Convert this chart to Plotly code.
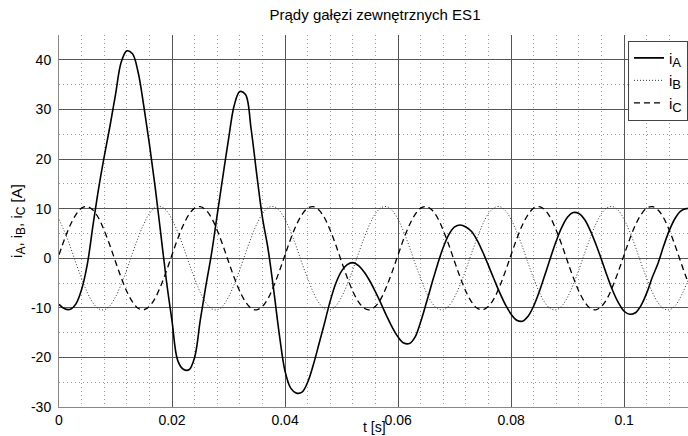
import plotly.graph_objects as go

# time axis [s], 1 ms steps
t = [round(k * 0.001, 3) for k in range(113)]

i_A = [-9.3, -10.2, -10.3, -9.2, -6.3, -1.3, 6.5, 14.0, 20.5, 26.5,
       33.0, 39.5, 41.8, 41.2, 37.5, 30.7, 23.0, 14.5, 5.0, -4.5,
       -12.7, -20.6, -22.4, -22.5, -20.0, -12.5, -5.5, 1.0, 8.8, 16.5,
       24.0, 30.8, 33.6, 33.0, 26.0, 16.8, 8.2, 1.8, -6.5, -15.5,
       -22.8, -26.2, -27.2, -27.0, -25.0, -21.5, -17.3, -13.0, -8.6, -5.0,
       -2.6, -1.3, -0.9, -1.5, -2.8, -4.6, -6.8, -9.2, -11.7, -14.0,
       -15.9, -17.1, -17.2, -15.9, -12.8, -9.0, -5.0, -1.2, 2.2, 4.8,
       6.3, 6.7, 6.3, 5.4, 3.6, 1.2, -1.5, -4.3, -7.0, -9.4,
       -11.3, -12.5, -12.7, -11.7, -9.6, -6.7, -3.3, 0.2, 3.5, 6.3,
       8.3, 9.2, 9.0, 7.8, 5.6, 2.8, -0.3, -3.6, -6.6, -9.0,
       -10.7, -11.3, -11.0, -9.5, -7.0, -3.8, -1.0, 2.5, 5.6, 8.0,
       9.5, 10.0, 9.9]

i_B = [7.8, 5.3, 2.3, -1.0, -4.1, -6.9, -9.0, -10.2, -10.4, -9.6,
       -7.8, -5.3, -2.3, 1.0, 4.1, 6.9, 9.0, 10.2, 10.4, 9.6,
       7.8, 5.3, 2.3, -1.0, -4.1, -6.9, -9.0, -10.2, -10.4, -9.6,
       -7.8, -5.3, -2.3, 1.0, 4.1, 6.9, 9.0, 10.2, 10.4, 9.6,
       7.8, 5.3, 2.3, -1.0, -4.1, -6.9, -9.0, -10.2, -10.4, -9.6,
       -7.8, -5.3, -2.3, 1.0, 4.1, 6.9, 9.0, 10.2, 10.4, 9.6,
       7.8, 5.3, 2.3, -1.0, -4.1, -6.9, -9.0, -10.2, -10.4, -9.6,
       -7.8, -5.3, -2.3, 1.0, 4.1, 6.9, 9.0, 10.2, 10.4, 9.6,
       7.8, 5.3, 2.3, -1.0, -4.1, -6.9, -9.0, -10.2, -10.4, -9.6,
       -7.8, -5.3, -2.3, 1.0, 4.1, 6.9, 9.0, 10.2, 10.4, 9.6,
       7.8, 5.3, 2.3, -1.0, -4.1, -6.9, -9.0, -10.2, -10.4, -9.6,
       -7.8, -5.3, -2.3]

i_C = [0.7, 3.9, 6.7, 8.8, 10.1, 10.4, 9.7, 8.1, 5.6, 2.6,
       -0.7, -3.9, -6.7, -8.8, -10.1, -10.4, -9.7, -8.1, -5.6, -2.6,
       0.7, 3.9, 6.7, 8.8, 10.1, 10.4, 9.7, 8.1, 5.6, 2.6,
       -0.7, -3.9, -6.7, -8.8, -10.1, -10.4, -9.7, -8.1, -5.6, -2.6,
       0.7, 3.9, 6.7, 8.8, 10.1, 10.4, 9.7, 8.1, 5.6, 2.6,
       -0.7, -3.9, -6.7, -8.8, -10.1, -10.4, -9.7, -8.1, -5.6, -2.6,
       0.7, 3.9, 6.7, 8.8, 10.1, 10.4, 9.7, 8.1, 5.6, 2.6,
       -0.7, -3.9, -6.7, -8.8, -10.1, -10.4, -9.7, -8.1, -5.6, -2.6,
       0.7, 3.9, 6.7, 8.8, 10.1, 10.4, 9.7, 8.1, 5.6, 2.6,
       -0.7, -3.9, -6.7, -8.8, -10.1, -10.4, -9.7, -8.1, -5.6, -2.6,
       0.7, 3.9, 6.7, 8.8, 10.1, 10.4, 9.7, 8.1, 5.6, 2.6,
       -0.7, -3.9, -6.7]

x_ticks = [0, 0.02, 0.04, 0.06, 0.08, 0.1]
x_tick_labels = ["0", "0.02", "0.04", "0.06", "0.08", "0.1"]
y_ticks = [-30, -20, -10, 0, 10, 20, 30, 40]
y_tick_labels = ["-30", "-20", "-10", "0", "10", "20", "30", "40"]

FONT = "Liberation Sans, Arial, sans-serif"
W, H = 688, 436
L, R, T, B = 59, 0, 35, 29


def sub(s, size):
    return "<sub><span style='font-size:%dpx'>%s</span></sub>" % (size, s)


fig = go.Figure()
fig.add_trace(go.Scatter(x=t, y=i_A, mode="lines", name="i" + sub("A", 13),
                         line=dict(color="black", width=1.6, shape="spline")))
fig.add_trace(go.Scatter(x=t, y=i_B, mode="lines", name="i" + sub("B", 13),
                         line=dict(color="#333333", width=1, dash="1px,2px", shape="spline")))
fig.add_trace(go.Scatter(x=t, y=i_C, mode="lines", name="i" + sub("C", 13),
                         line=dict(color="black", width=1.3, dash="6px,4px", shape="spline")))

fig.update_layout(
    width=W, height=H,
    margin=dict(l=L, r=R, t=T, b=B, autoexpand=False),
    paper_bgcolor="white", plot_bgcolor="white",
    font=dict(family=FONT, size=14, color="black"),
    title=dict(text="Prądy gałęzi zewnętrznych ES1", x=375/W, xanchor="center",
               y=1 - 15/H, yanchor="middle", font=dict(size=15, family=FONT)),
    showlegend=True,
    legend=dict(x=1.0, xanchor="right", y=0.985, yanchor="top",
                bgcolor="white", bordercolor="#444444", borderwidth=1,
                font=dict(size=15, family=FONT), itemwidth=30,
                tracegroupgap=0),
    annotations=[dict(text="t [s]", xref="paper", yref="paper",
                      x=(375 - L) / (W - L - R), y=-(426.5 - (H - B)) / (H - T - B),
                      xanchor="center", yanchor="middle", showarrow=False,
                      font=dict(size=14, family=FONT))],
)

fig.update_xaxes(
    range=[0, 0.1113], tickmode="array", tickvals=x_ticks, ticktext=x_tick_labels,
    showgrid=True, gridcolor="#555555", gridwidth=1,
    minor=dict(dtick=0.004, showgrid=True, gridcolor="#9a9a9a", griddash="1px,3px", gridwidth=1),
    showline=True, linecolor="#888888", linewidth=1, mirror=False,
    zeroline=False, ticks="", ticklabelstandoff=0, automargin=False,
    tickfont=dict(size=14, family=FONT),
)
fig.update_yaxes(
    range=[-30, 45], tickmode="array", tickvals=y_ticks, ticktext=y_tick_labels,
    showgrid=True, gridcolor="#555555", gridwidth=1,
    minor=dict(dtick=5, showgrid=True, gridcolor="#9a9a9a", griddash="1px,3px", gridwidth=1),
    showline=True, linecolor="#888888", linewidth=1, mirror=False,
    zeroline=False, ticks="", ticklabelstandoff=4, automargin=False,
    tickfont=dict(size=14, family=FONT),
    title=dict(text="i" + sub("A", 12) + ", i" + sub("B", 12) + ", i" + sub("C", 12) + " [A]",
               standoff=4, font=dict(size=15, family=FONT)),
)

fig.write_html("out.html", config={"displayModeBar": False},
               post_script="document.body.style.margin='0';document.body.style.overflow='hidden';")
